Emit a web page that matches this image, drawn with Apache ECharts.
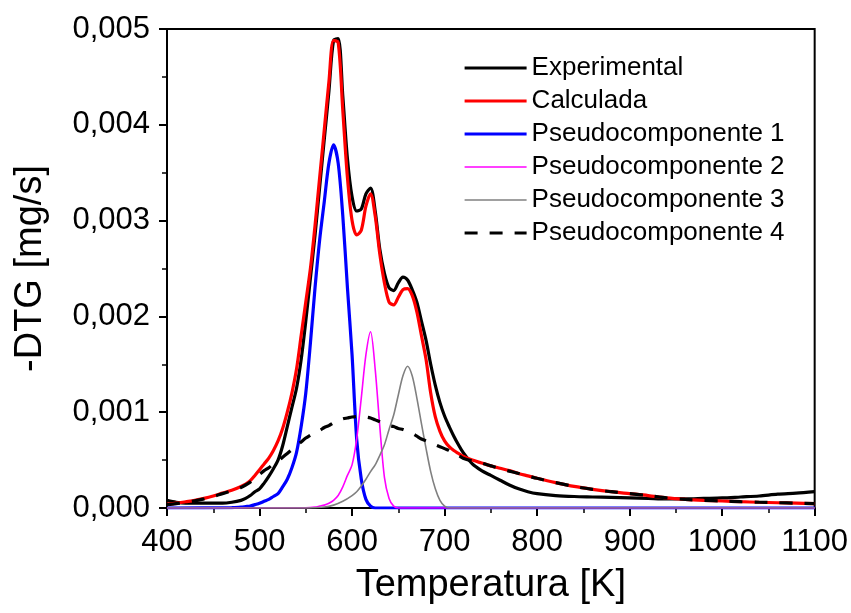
<!DOCTYPE html>
<html>
<head>
<meta charset="utf-8">
<script src="https://cdn.jsdelivr.net/npm/echarts@6/dist/echarts.min.js"></script>
<style>
  html, body { margin: 0; padding: 0; background: #fff; }
  #chart { width: 851px; height: 613px; }
</style>
</head>
<body>
<div id="chart"></div>
<script>
// temperaturas compartidas (K)
const temps = [
  400, 410, 420, 430, 440, 450, 460, 470, 480,
  485, 490, 495, 500, 505, 510, 515, 520, 525, 530, 535, 540, 545, 550, 555, 560,
  565, 570, 575, 580, 585, 590, 595, 600, 605, 610, 615, 620, 625, 630, 635, 640,
  645, 650, 655, 660, 665, 670, 675, 680, 685, 690, 695, 700, 705, 710, 715, 720,
  730, 740, 750, 760, 770, 780, 790, 800,
  820, 840, 860, 880, 900, 920, 940, 960, 980, 1000, 1020, 1040, 1060, 1080, 1100
]

// -DTG en 1e-3 mg/s
const experimental = [
  0.08, 0.06, 0.05, 0.05, 0.05, 0.05, 0.05, 0.06, 0.08,
  0.10, 0.13, 0.17, 0.20, 0.26, 0.33, 0.41, 0.50, 0.65, 0.85, 1.05, 1.25, 1.55, 1.95, 2.40, 2.85,
  3.35, 3.85, 4.35, 4.88, 4.90, 4.30, 3.65, 3.25, 3.10, 3.12, 3.28, 3.34, 3.10, 2.70, 2.45, 2.30,
  2.27, 2.35, 2.41, 2.38, 2.28, 2.15, 1.95, 1.75, 1.50, 1.28, 1.10, 0.96, 0.85, 0.75, 0.66, 0.58,
  0.46, 0.39, 0.34, 0.29, 0.24, 0.20, 0.17, 0.15,
  0.13, 0.12, 0.115, 0.11, 0.105, 0.10, 0.095, 0.095, 0.10, 0.105, 0.115, 0.125, 0.145, 0.155, 0.17
]

const calculada = [
  0.04, 0.05, 0.065, 0.08, 0.10, 0.125, 0.155, 0.185, 0.225,
  0.25, 0.285, 0.34, 0.40, 0.46, 0.52, 0.60, 0.70, 0.83, 1.00, 1.20, 1.45, 1.80, 2.15, 2.50, 2.95,
  3.45, 3.95, 4.45, 4.88, 4.86, 4.15, 3.45, 3.00, 2.85, 2.90, 3.15, 3.28, 3.05, 2.65, 2.35, 2.15,
  2.12, 2.20, 2.28, 2.29, 2.22, 2.05, 1.80, 1.55, 1.20, 0.95, 0.80, 0.70, 0.64, 0.60, 0.57, 0.54,
  0.50, 0.47, 0.44, 0.415, 0.39, 0.36, 0.335, 0.31,
  0.265, 0.225, 0.195, 0.17, 0.15, 0.13, 0.105, 0.09, 0.08, 0.073, 0.066, 0.06, 0.055, 0.05, 0.045
]

const pseudo4 = [
  0.035, 0.045, 0.06, 0.075, 0.095, 0.12, 0.15, 0.18, 0.215,
  0.24, 0.27, 0.31, 0.35, 0.39, 0.42, 0.46, 0.49, 0.53, 0.57, 0.61, 0.65, 0.69, 0.73, 0.76, 0.79,
  0.81, 0.84, 0.86, 0.89, 0.91, 0.93, 0.94, 0.95, 0.955, 0.955, 0.95, 0.94, 0.92, 0.90, 0.88, 0.86,
  0.85, 0.83, 0.82, 0.80, 0.78, 0.75, 0.72, 0.70, 0.68, 0.66, 0.64, 0.62, 0.60, 0.57, 0.55, 0.52,
  0.49, 0.47, 0.44, 0.41, 0.385, 0.36, 0.335, 0.31,
  0.265, 0.225, 0.195, 0.17, 0.15, 0.13, 0.105, 0.09, 0.08, 0.073, 0.066, 0.06, 0.055, 0.05, 0.045
]

const p1Temps = [
  400, 470, 480, 485, 490, 495, 500, 505, 510, 515, 520, 525, 530, 535, 540, 545, 550, 555,
  560, 565, 570, 575, 580, 585, 590, 595, 600, 605, 610, 615, 620, 625, 1100
]
const pseudo1 = [
  0, 0.003, 0.01, 0.015, 0.02, 0.035, 0.05, 0.07, 0.09, 0.12, 0.15, 0.22, 0.30, 0.42, 0.58, 0.85, 1.20, 1.72,
  2.30, 2.80, 3.20, 3.60, 3.79, 3.60, 3.05, 2.30, 1.60, 0.72, 0.30, 0.09, 0.02, 0, 0
]

const p2Temps = [
  400, 550, 560, 565, 570, 575, 580, 585, 590, 595, 600, 605, 610, 615, 620, 625, 630, 635,
  640, 645, 650, 1100
]
const pseudo2 = [
  0, 0.003, 0.01, 0.02, 0.03, 0.05, 0.08, 0.13, 0.22, 0.34, 0.45, 0.72, 1.15, 1.60, 1.84, 1.45, 0.85, 0.32,
  0.10, 0.02, 0, 0
]

const p3Temps = [
  400, 550, 570, 580, 590, 600, 605, 610, 615, 620, 625, 630, 635, 640, 645, 650, 655, 660,
  665, 670, 675, 680, 685, 690, 695, 700, 705, 1100
]
const pseudo3 = [
  0, 0, 0.01, 0.03, 0.07, 0.13, 0.17, 0.23, 0.30, 0.38, 0.45, 0.55, 0.66, 0.82, 0.97, 1.18, 1.38, 1.48,
  1.38, 1.15, 0.88, 0.62, 0.38, 0.20, 0.08, 0.02, 0, 0
]

const xTicks = [400, 500, 600, 700, 800, 900, 1000, 1100]
const yTicks = [0, 0.001, 0.002, 0.003, 0.004, 0.005]

const FONT = 'Liberation Sans, Arial, sans-serif'

const toPairs = (xs, ys) => xs.map((t, i) => [t, ys[i] / 1000])

const lineSeries = (name, xs, ys, color, width, type = 'solid') => ({
  name,
  type: 'line',
  data: toPairs(xs, ys),
  symbol: 'none',
  smooth: 0.3,
  clip: true,
  lineStyle: { color, width, type },
  itemStyle: { color },
  emphasis: { disabled: true }
})

const chart = echarts.init(document.getElementById('chart'), null, { renderer: 'canvas' })

chart.setOption({
  animation: false,
  backgroundColor: '#fff',
  textStyle: { fontFamily: FONT },
  grid: {
    left: 167, right: 36, top: 29, bottom: 105,
    show: true, borderColor: '#000', borderWidth: 2
  },
  legend: {
    orient: 'vertical',
    left: 458,
    top: 50,
    itemWidth: 62,
    itemHeight: 14,
    itemGap: 7,
    itemStyle: { opacity: 0 },
    lineStyle: { width: 'inherit' },
    textStyle: { fontFamily: FONT, fontSize: 26, color: '#000', lineHeight: 26 },
    data: ['Experimental', 'Calculada', 'Pseudocomponente 1', 'Pseudocomponente 2', 'Pseudocomponente 3', 'Pseudocomponente 4']
  },
  xAxis: {
    type: 'value',
    min: xTicks[0],
    max: xTicks[xTicks.length - 1],
    interval: 100,
    name: 'Temperatura [K]',
    nameLocation: 'middle',
    nameGap: 59,
    nameTextStyle: { fontFamily: FONT, fontSize: 38, color: '#000' },
    axisLine: { show: true, onZero: false, lineStyle: { color: '#000', width: 2 } },
    axisTick: { show: true, length: 8, lineStyle: { color: '#000', width: 2 } },
    minorTick: { show: true, splitNumber: 2, length: 5, lineStyle: { color: '#000', width: 1.5 } },
    axisLabel: {
      fontFamily: FONT, fontSize: 31, color: '#000', margin: 19,
      formatter: (v) => String(v)
    },
    splitLine: { show: false }
  },
  yAxis: {
    type: 'value',
    min: yTicks[0],
    max: yTicks[yTicks.length - 1],
    interval: 0.001,
    name: '-DTG [mg/s]',
    nameLocation: 'middle',
    nameGap: 117,
    nameRotate: 90,
    nameTextStyle: { fontFamily: FONT, fontSize: 38, color: '#000' },
    axisLine: { show: true, lineStyle: { color: '#000', width: 2 } },
    axisTick: { show: true, length: 8, lineStyle: { color: '#000', width: 2 } },
    minorTick: { show: true, splitNumber: 2, length: 5, lineStyle: { color: '#000', width: 1.5 } },
    axisLabel: {
      fontFamily: FONT, fontSize: 31, color: '#000', margin: 17,
      formatter: (v) => v.toFixed(3).replace('.', ',')
    },
    splitLine: { show: false }
  },
  series: [
    lineSeries('Experimental', temps, experimental, '#000000', 3.2),
    lineSeries('Calculada', temps, calculada, '#ff0000', 3.2),
    lineSeries('Pseudocomponente 1', p1Temps, pseudo1, '#0000ff', 3.2),
    lineSeries('Pseudocomponente 2', p2Temps, pseudo2, '#ff00ff', 1.6),
    lineSeries('Pseudocomponente 3', p3Temps, pseudo3, '#808080', 1.6),
    lineSeries('Pseudocomponente 4', temps, pseudo4, '#000000', 3.2, [13, 12])
  ]
})
</script>
</body>
</html>
